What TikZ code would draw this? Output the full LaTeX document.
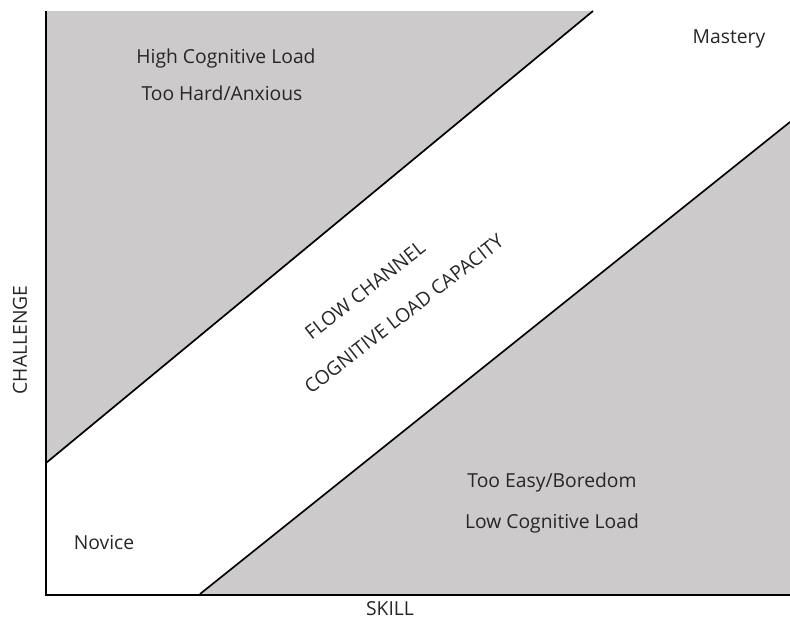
\documentclass[tikz,border=0pt]{standalone}
\usepackage{fontspec}
\setmainfont{Open Sans}
\usepackage{tikz}
\usetikzlibrary{positioning}
\definecolor{zoneColor}{RGB}{204,202,203}
\tikzstyle{diagram} = [x = 1pt, y = -1pt]
\tikzstyle{zoneStyle} = [fill=zoneColor, draw=none]
\tikzstyle{edgeLine} = [color=black, line width=1.7pt]
\tikzstyle{axisLine} = [color=black, line width=2.6pt]
\tikzstyle{zoneText} = [font=\fontsize{19.3}{22}\selectfont, text=black!85, inner sep=0pt]
\tikzstyle{channelText} = [zoneText, rotate=37.8]
\newcommand{\zoneLabel}[4]{\node [zoneText, anchor=base] (#1) at (#2,#3) {#4};}

\begin{document}
\begin{tikzpicture}[diagram]
          \useasboundingbox (0,0) rectangle (790,619);
          % grey zones
          \fill [zoneStyle] (46,11) -- (593,11) -- (46,463) -- cycle;
          \fill [zoneStyle] (200,594) -- (790,122) -- (790,594) -- cycle;
          \draw [edgeLine] (46,463) -- (593,11);
          \draw [edgeLine] (200,594) -- (790,122);
          % axes
          \coordinate (origin) at (46,595);
          \coordinate (topEnd) at (46,11);
          \coordinate (rightEnd) at (790,595);
          \draw [axisLine] (topEnd) -- (origin) -- (rightEnd);
          % labels
          \zoneLabel{high}{226}{63}{High Cognitive Load}
          \zoneLabel{hard}{222}{100}{Too Hard/Anxious}
          \zoneLabel{mastery}{729}{43}{Mastery}
          \zoneLabel{easy}{552}{487}{Too Easy/Boredom}
          \zoneLabel{low}{552}{528}{Low Cognitive Load}
          \zoneLabel{novice}{104}{549}{Novice}
          \zoneLabel{skill}{390}{615}{SKILL}
          \node [zoneText, rotate=90] (challenge) at (20,340) {CHALLENGE};
          \node [channelText] (flow) at (365,290) {FLOW CHANNEL};
          \node [channelText] (capacity) at (404,314) {COGNITIVE LOAD CAPACITY};
        \end{tikzpicture}
\end{document}
